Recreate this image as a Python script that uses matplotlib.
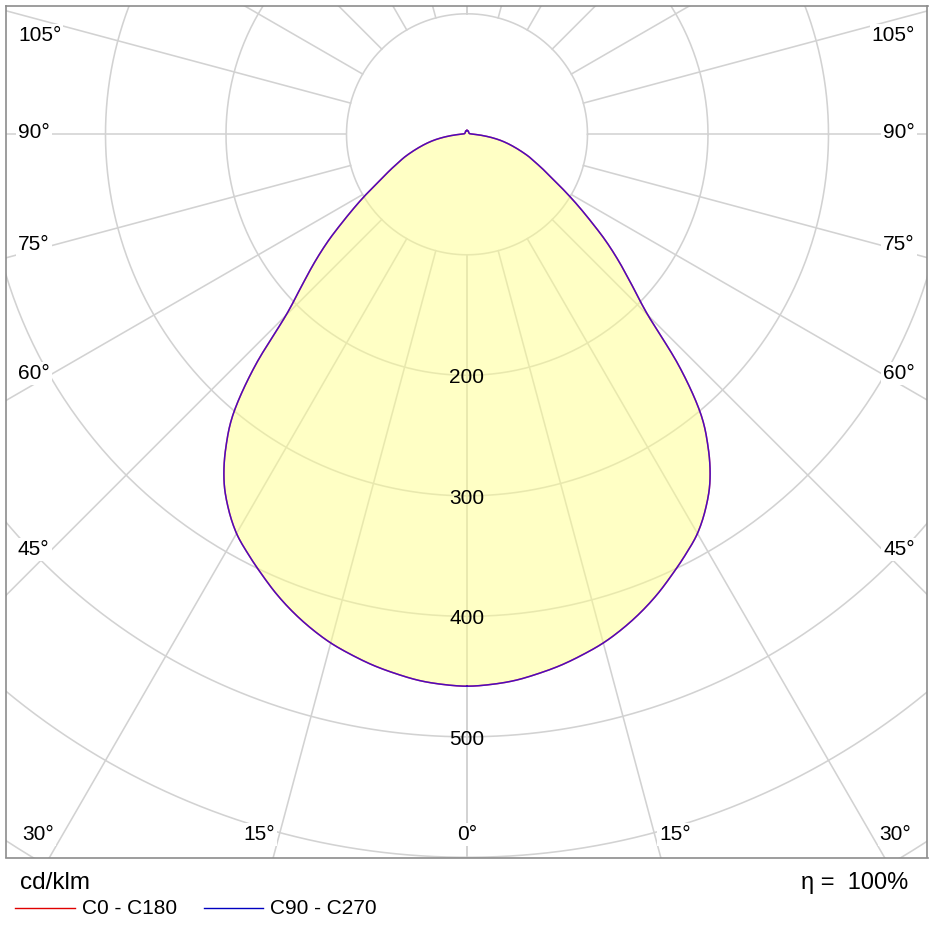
import numpy as np
import matplotlib
matplotlib.use("Agg")
import matplotlib.pyplot as plt

plt.rcParams['font.family'] = ['Liberation Sans', 'DejaVu Sans']

# luminous intensity (cd/klm) against gamma angle
gamma = [0, 2.5, 5, 7.5, 10, 12.5, 15, 17.5, 20, 22.5, 25, 27.5, 30, 32.5,
         35, 37.5, 40, 42.5, 45, 47.5, 50, 52.5, 55, 57.5, 60, 62.5, 65,
         67.5, 70, 72.5, 75, 77.5, 80, 82.5, 85, 87.5, 90, 95, 100, 110,
         120, 130, 140, 150, 160, 170, 175, 180]
c0_c180 = [458, 457, 455, 451.5, 447.5, 442.5, 437, 430, 422, 413, 403, 393,
           382.5, 368.5, 351.5, 329, 301, 260, 212.5, 186, 165, 145, 125,
           108, 93, 80, 70.5, 62, 55, 47.5, 40.5, 34, 27.5, 20.5, 14, 9,
           5.5, 3.5, 2.5, 2, 2, 2, 2.2, 2.5, 3, 2.8, 3.2, 3.6]
c90_c270 = list(c0_c180)

rings = [100, 200, 300, 400, 500, 600, 700]
ring_labels = [200, 300, 400, 500]
spokes = list(range(0, 181, 15))
efficiency = 100

# pixel geometry of the reference
W, H = 945, 935
s = 1.205            # px per cd/klm
cx, cy = 467, 134.3  # pole position in px
left_px, right_px, top_px, bot_px = 6.5, 927.5, 6, 857.5

fig = plt.figure(figsize=(W / 100, H / 100), dpi=100)
ax = fig.add_axes([left_px / W, 1 - bot_px / H,
                   (right_px - left_px) / W, (bot_px - top_px) / H])
ax.set_xlim((left_px - cx) / s, (right_px - cx) / s)
ax.set_ylim((cy - bot_px) / s, (cy - top_px) / s)
ax.set_xticks([])
ax.set_yticks([])
for sp in ax.spines.values():
    sp.set_color('#8c8c8c')
    sp.set_linewidth(1.2)

grid_col = '#d2d2d2'
t = np.linspace(0, 2 * np.pi, 720)
for r in rings:
    ax.plot(r * np.cos(t), r * np.sin(t), color=grid_col, lw=1.15, zorder=1)
for a in spokes:
    for sgn in (1, -1):
        g = np.radians(sgn * a)
        ax.plot([100 * np.sin(g), 1200 * np.sin(g)],
                [-100 * np.cos(g), -1200 * np.cos(g)],
                color=grid_col, lw=1.15, zorder=1)


def closed_curve(vals, n=12):
    g = np.radians(np.array(gamma, dtype=float))
    r = np.array(vals, dtype=float)
    # C0 side, then the mirrored C180 side (closed loop, last point dropped)
    gg = np.concatenate([g, -g[::-1][1:-1]])
    rr = np.concatenate([r, r[::-1][1:-1]])
    px, py = rr * np.sin(gg), -rr * np.cos(gg)
    # periodic Catmull-Rom through the read points for a smooth outline
    P = np.column_stack([px, py])
    m = len(P)
    u = np.linspace(0, 1, n, endpoint=False)[:, None]
    out = []
    for i in range(m):
        p0, p1, p2, p3 = P[i - 1], P[i], P[(i + 1) % m], P[(i + 2) % m]
        out.append(0.5 * (2 * p1 + (-p0 + p2) * u
                          + (2 * p0 - 5 * p1 + 4 * p2 - p3) * u ** 2
                          + (-p0 + 3 * p1 - 3 * p2 + p3) * u ** 3))
    out = np.vstack(out + [P[:1]])
    return out[:, 0], out[:, 1]


x0, y0 = closed_curve(c0_c180)
x90, y90 = closed_curve(c90_c270)
ax.fill(x0, y0, color='#ffff8c', alpha=0.5, lw=0, zorder=2)
# both planes coincide, so red and blue blend into violet
ax.plot(x0, y0, color='red', lw=1.1, alpha=0.85, zorder=3)
ax.plot(x90, y90, color='blue', lw=1.1, alpha=0.7, zorder=3)

for r in ring_labels:
    ax.text(0, -r - 6.5, str(r), ha='center', va='baseline', fontsize=15,
            zorder=4)

box = dict(fc='white', ec='none', pad=1.5)
side = [(105, 40.7), (90, 138.3), (75, 250), (60, 379), (45, 555)]
for a, py in side:
    y = (cy - py) / s
    ax.text((18 - cx) / s, y, f"{a}°", ha='left', va='baseline',
            fontsize=15, bbox=box, zorder=4)
    ax.text((915 - cx) / s, y, f"{a}°", ha='right', va='baseline',
            fontsize=15, bbox=box, zorder=4)
bottom = [(30, 38.5), (15, 259), (0, 467), (15, 675), (30, 895.5)]
for a, px in bottom:
    ax.text((px - cx) / s, (cy - 840) / s, f"{a}°", ha='center',
            va='baseline', fontsize=15, bbox=box, zorder=4)

# footer: unit, efficiency and legend in pixel coordinates
lax = fig.add_axes([0, 0, 1, 1], facecolor='none')
lax.set_xlim(0, W)
lax.set_ylim(H, 0)
lax.axis('off')
lax.text(20, 889, "cd/klm", fontsize=17.5, ha='left', va='baseline')
lax.text(908, 889, f"η =  {efficiency}%", fontsize=17, ha='right',
         va='baseline')
lax.plot([15, 75], [907.7, 907.7], color='#e00000', lw=1.0)
lax.text(81.5, 914.5, "C0 - C180", fontsize=15, ha='left', va='baseline')
lax.plot([204, 263], [907.7, 907.7], color='#0000c0', lw=1.0)
lax.text(270, 914.5, "C90 - C270", fontsize=15, ha='left', va='baseline')

fig.savefig("out.png", dpi=100)
